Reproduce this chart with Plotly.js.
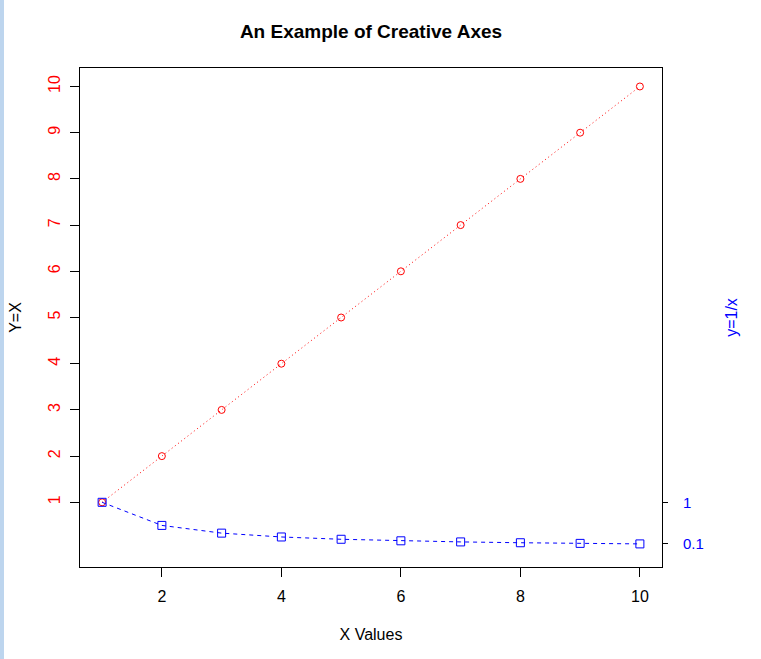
<!DOCTYPE html>
<html>
<head>
<meta charset="utf-8">
<script src="https://cdn.plot.ly/plotly-3.0.1.min.js"></script>
<style>
  html, body { margin: 0; padding: 0; background: #ffffff; }
  #strip { position: absolute; left: 0; top: 0; width: 4px; height: 659px; background: #bdd5ee; z-index: 5; }
  #chart { position: absolute; left: 0; top: 0; width: 761px; height: 659px; }
</style>
</head>
<body>
<div id="strip"></div>
<div id="chart"></div>
<script>
// Data
const xValues = [1, 2, 3, 4, 5, 6, 7, 8, 9, 10];
const yLinear = [1, 2, 3, 4, 5, 6, 7, 8, 9, 10];          // Y = X
const yInverse = [1, 0.5, 0.333, 0.25, 0.2, 0.167, 0.143, 0.125, 0.111, 0.1]; // y = 1/x
const leftTickVals = [1, 2, 3, 4, 5, 6, 7, 8, 9, 10];
const leftTickText = ['1', '2', '3', '4', '5', '6', '7', '8', '9', '10'];
const rightTickVals = [1, 0.1];
const rightTickText = ['1', '0.1'];
const xTickVals = [2, 4, 6, 8, 10];
const xTickText = ['2', '4', '6', '8', '10'];

const FONT = 'Liberation Sans, Arial, sans-serif';

const traces = [
  {
    x: xValues, y: yLinear, type: 'scatter', mode: 'lines+markers',
    line: { color: '#ff0000', width: 1, dash: '1px,3px' },
    marker: { symbol: 'circle-open', size: 7, color: '#ff0000', line: { width: 1, color: '#ff0000' } },
    xaxis: 'x', yaxis: 'y', hoverinfo: 'x+y', showlegend: false
  },
  {
    x: xValues, y: yInverse, type: 'scatter', mode: 'lines+markers',
    line: { color: '#0000ff', width: 1, dash: '4px,4px' },
    marker: { symbol: 'square-open', size: 8, color: '#0000ff', line: { width: 1, color: '#0000ff' } },
    xaxis: 'x', yaxis: 'y', hoverinfo: 'x+y', showlegend: false
  }
];

const layout = {
  width: 761, height: 659,
  margin: { l: 80, r: 99, t: 68, b: 92, pad: 0 },
  paper_bgcolor: '#ffffff', plot_bgcolor: '#ffffff',
  font: { family: FONT, size: 16, color: '#000000' },
  showlegend: false,
  title: {
    text: '<b>An Example of Creative Axes</b>',
    font: { family: FONT, size: 19, color: '#000000' },
    x: 0.5, xanchor: 'center', y: 0.953, yanchor: 'middle', xref: 'paper'
  },
  xaxis: {
    range: [0.63, 10.37], showgrid: false, zeroline: false,
    showline: true, mirror: true, linecolor: '#000000', linewidth: 1,
    ticks: 'outside', ticklen: 9, tickwidth: 1, tickcolor: '#000000',
    tickvals: xTickVals, ticktext: xTickText,
    tickfont: { family: FONT, size: 16, color: '#000000' },
    ticklabelstandoff: 6,
    title: { text: 'X Values', font: { family: FONT, size: 16, color: '#000000' }, standoff: 24 },
    automargin: false
  },
  yaxis: {
    range: [-0.4, 10.4], showgrid: false, zeroline: false,
    showline: true, mirror: true, linecolor: '#000000', linewidth: 1,
    ticks: 'outside', ticklen: 9, tickwidth: 1, tickcolor: '#000000',
    tickvals: leftTickVals, ticktext: leftTickText, tickangle: -90,
    tickfont: { family: FONT, size: 16, color: '#ff0000' },
    ticklabelstandoff: 4,
    title: { text: 'Y=X', font: { family: FONT, size: 16, color: '#000000' }, standoff: 19 },
    automargin: false
  },
  yaxis2: {
    overlaying: 'y', side: 'right', anchor: 'x',
    range: [-0.4, 10.4], showgrid: false, zeroline: false, showline: false,
    ticks: 'outside', ticklen: 5, tickwidth: 1, tickcolor: '#000000',
    tickvals: rightTickVals, ticktext: rightTickText,
    tickfont: { family: FONT, size: 15, color: '#0000ff' },
    ticklabelstandoff: 12,
    title: { text: 'y=1/x', font: { family: FONT, size: 16, color: '#0000ff' }, standoff: 22 },
    automargin: false
  }
};

// invisible helper trace so the right-hand axis is drawn
traces.push({ x: [xValues[0]], y: [yInverse[0]], type: 'scatter', mode: 'markers',
  marker: { opacity: 0 }, yaxis: 'y2', xaxis: 'x', hoverinfo: 'skip', showlegend: false });

Plotly.newPlot('chart', traces, layout, { displayModeBar: false, staticPlot: true });
</script>
</body>
</html>
